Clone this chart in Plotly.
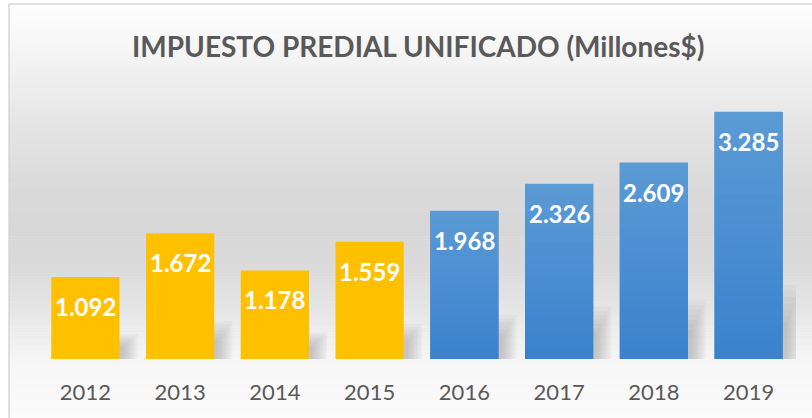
import plotly.graph_objects as go

# Recaudo anual del impuesto predial unificado (millones de pesos)
years = ["2012", "2013", "2014", "2015", "2016", "2017", "2018", "2019"]
recaudo = [1092, 1672, 1178, 1559, 1968, 2326, 2609, 3285]

YELLOW = "#FFC000"
BLUE = "#4A8FD4"
BLUE_TOP = (91, 155, 213)
BLUE_BOTTOM = (58, 130, 206)
bar_colors = [YELLOW] * 4 + [BLUE] * 4
blue_bars = [False] * 4 + [True] * 4

W, H = 812, 418
ML, MR, MT, MB = 38, 16, 96, 59
PW, PH = W - ML - MR, H - MT - MB
BARGAP = 0.28
HALF = (1 - BARGAP) / 2
PX_PER_CAT = PW / len(years)


def px_x(x):
    return (x - ML) / PW


def px_y(y):
    return (H - MB - y) / PH


def fmt(v):
    return f"{v:,}".replace(",", ".")


fig = go.Figure(
    go.Bar(
        x=years,
        y=recaudo,
        marker=dict(color=bar_colors, line=dict(width=0)),
        hoverinfo="skip",
    )
)

# soft vertical gradient behind the chart
stops = [(4, 254), (60, 243), (120, 230), (180, 219), (230, 215),
         (270, 219), (320, 233), (360, 246), (418, 251)]
shapes = []
for (y0, c0), (y1, c1) in zip(stops[:-1], stops[1:]):
    n = max(1, int((y1 - y0) / 3))
    for k in range(n):
        a = y0 + (y1 - y0) * k / n
        b = y0 + (y1 - y0) * (k + 1) / n
        c = round(c0 + (c1 - c0) * (k + 0.5) / n)
        col = f"rgb({c},{c},{c})"
        shapes.append(dict(
            type="rect", xref="paper", yref="paper", layer="below",
            x0=px_x(9), x1=px_x(W + 2), y0=px_y(b + 0.5), y1=px_y(a),
            fillcolor=col, line=dict(width=0),
        ))

# soft drop shadow to the right of each bar's lower part
for i, v in enumerate(recaudo):
    for k in range(7):
        w_px = 18 - 2.3 * k
        h = v * (0.30 - 0.025 * k)
        shapes.append(dict(
            type="rect", xref="x", yref="y", layer="below",
            x0=i + HALF - 2 / PX_PER_CAT, x1=i + HALF + w_px / PX_PER_CAT,
            y0=0, y1=h,
            fillcolor="rgba(110,110,110,0.055)", line=dict(width=0),
        ))

# vertical gradient fill on the blue bars
for i, (v, is_blue) in enumerate(zip(recaudo, blue_bars)):
    if not is_blue:
        continue
    n = 30
    for k in range(n):
        t = (k + 0.5) / n
        r, g, b = (round(lo + (hi - lo) * t) for lo, hi in zip(BLUE_BOTTOM, BLUE_TOP))
        shapes.append(dict(
            type="rect", xref="x", yref="y", layer="above",
            x0=i - HALF, x1=i + HALF,
            y0=v * k / n, y1=v * (k + 1) / n + v * 0.002,
            fillcolor=f"rgb({r},{g},{b})", line=dict(width=0),
        ))

# chart frame
shapes.append(dict(
    type="rect", xref="paper", yref="paper", layer="above",
    x0=px_x(9), x1=px_x(W + 5), y0=px_y(H + 5), y1=px_y(4),
    line=dict(color="#d6d6d6", width=1.5), fillcolor="rgba(0,0,0,0)",
))

# value labels sit inside the top end of each bar (category index as x)
annotations = [
    dict(x=i, y=v, xref="x", yref="y", text=fmt(v), showarrow=False,
         yshift=-29.5, yanchor="middle",
         font=dict(family="Lato", size=24, color="white", weight="bold"))
    for i, v in enumerate(recaudo)
]
annotations.append(dict(
    x=px_x(418), y=px_y(46), xref="paper", yref="paper",
    text="<b>IMPUESTO PREDIAL UNIFICADO (Millones$)</b>", showarrow=False,
    xanchor="center", yanchor="middle",
    font=dict(family="Lato", size=28, color="#595959"),
))

fig.update_layout(
    width=W, height=H,
    margin=dict(l=ML, r=MR, t=MT, b=MB, pad=0),
    paper_bgcolor="white",
    plot_bgcolor="rgba(0,0,0,0)",
    bargap=BARGAP,
    showlegend=False,
    shapes=shapes,
    annotations=annotations,
    xaxis=dict(
        type="category",
        range=[-0.5, len(years) - 0.5],
        showgrid=False, zeroline=False, showline=False, ticks="",
        tickfont=dict(family="Lato", size=22, color="#595959"),
        ticklabelstandoff=18,
    ),
    yaxis=dict(
        range=[0, 3500], visible=False, showgrid=False, zeroline=False,
    ),
)

fig.write_html("out.html")
